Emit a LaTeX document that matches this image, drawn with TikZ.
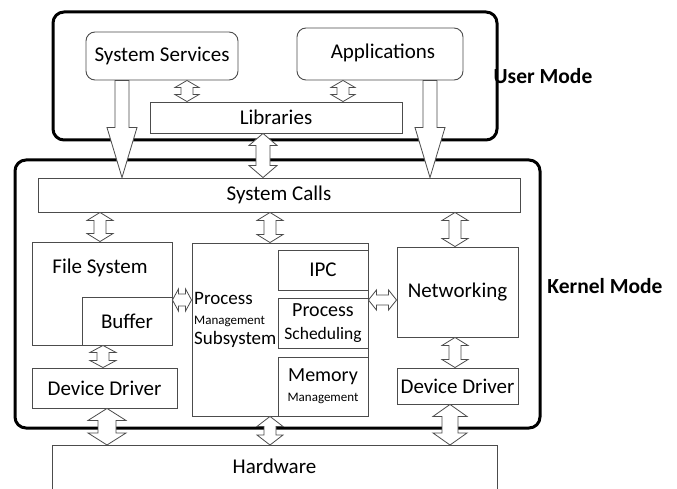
\documentclass[tikz,border=0pt]{standalone}
\usepackage{fontspec}
\setmainfont{Carlito}
\usetikzlibrary{calc}
\tikzset{
  box/.style={draw=black!70, line width=0.9pt, fill=white, inner sep=0pt},
  modebox/.style={draw=black, line width=3pt, rounded corners=11pt, inner sep=0pt},
  appbox/.style={draw=black!70, line width=0.9pt, fill=white, rounded corners=9pt, inner sep=0pt},
  txt/.style={font=\fontsize{21}{23}\selectfont, inner sep=0pt},
  lbl/.style={font=\fontsize{21.5}{23}\selectfont\bfseries, inner sep=0pt},
  arr/.style={draw=black!70, line width=0.8pt, fill=white, line join=miter},
  vdarrow/.style n args={3}{arr, to path={(\tikztostart) -- ++(#2,#3) -- ++(-#2+#1,0)
    -- ($(\tikztotarget)+(#1,-#3)$) -- ++(#2-#1,0) -- (\tikztotarget) -- ++(-#2,-#3)
    -- ++(#2-#1,0) -- ($(\tikztostart)+(-#1,#3)$) -- ++(-#2+#1,0) -- cycle}},
  hdarrow/.style n args={3}{arr, to path={(\tikztostart) -- ++(#3,-#2) -- ++(0,#2-#1)
    -- ($(\tikztotarget)+(-#3,-#1)$) -- ++(0,-#2+#1) -- (\tikztotarget) -- ++(-#3,#2)
    -- ++(0,-#2+#1) -- ($(\tikztostart)+(#3,#1)$) -- ++(0,#2-#1) -- cycle}},
  vsarrow/.style n args={3}{arr, to path={(\tikztostart) -- ++(#1,0)
    -- ($(\tikztotarget)+(#1,-#3)$) -- ++(#2-#1,0) -- (\tikztotarget) -- ++(-#2,-#3)
    -- ++(#2-#1,0) -- ($(\tikztostart)+(-#1,0)$) -- cycle}},
}
\begin{document}
\begin{tikzpicture}[x=1pt,y=-1pt]
\useasboundingbox (0,0) rectangle (677,489);
% mode boxes
\node[modebox, minimum width=444pt, minimum height=128pt] (user) at (275,76) {};
\node[modebox, minimum width=525pt, minimum height=268pt] (kernel) at (277.5,294) {};
\node[lbl] (userlbl) at (543,76) {User Mode};
\node[lbl] (kernlbl) at (605,286) {Kernel Mode};
% user level
\node[appbox, minimum width=152pt, minimum height=48pt, txt] (sysserv) at (162,56) {System Services};
\node[appbox, minimum width=166pt, minimum height=52pt, txt] (apps) at (380,54) {};
\node[txt] at (383,53) {Applications};
\node[box, minimum width=252pt, minimum height=31pt, txt] (libs) at (276,117.5) {Libraries};
% kernel level
\node[box, minimum width=482pt, minimum height=34pt, txt] (syscalls) at (279,195) {System Calls};
\node[box, minimum width=140pt, minimum height=103pt] (filesys) at (102,293.5) {};
\node[txt] at (100,268) {File System};
\node[box, minimum width=90pt, minimum height=48pt, txt] (buffer) at (127,321) {Buffer};
\node[box, minimum width=145pt, minimum height=40pt, txt] (dd1) at (104.5,388) {Device Driver};
\node[box, minimum width=176pt, minimum height=173pt] (proc) at (280,329.5) {};
\node[anchor=west, inner sep=0pt, align=left, font=\fontsize{19}{20}\selectfont] at (194,320)
  {Process\\{\fontsize{13}{20}\selectfont Management}\\Subsystem};
\node[box, minimum width=90pt, minimum height=40pt, txt] (ipc) at (323,270) {IPC};
\node[box, minimum width=90pt, minimum height=50pt, align=center, font=\fontsize{20}{23}\selectfont] (sched) at (323,323)
  {Process\\{\fontsize{17.5}{23}\selectfont Scheduling}};
\node[box, minimum width=90pt, minimum height=59pt, align=center, font=\fontsize{20}{20}\selectfont] (mem) at (323,386.5)
  {Memory\\{\fontsize{13}{20}\selectfont Management}};
\node[box, minimum width=121pt, minimum height=90pt, txt] (net) at (457.5,292) {Networking};
\node[box, minimum width=121pt, minimum height=36pt, txt] (dd2) at (457.5,386) {Device Driver};
% hardware
\node[box, anchor=north, minimum width=445pt, minimum height=70pt] (hw) at (274.5,445) {};
\node[txt] at (274.5,466) {Hardware};
% arrows
\draw[vsarrow={7}{15}{50}] (sysserv.south -| 122,0) to (syscalls.north -| 122,0);
\draw[vsarrow={7}{15}{50}] (apps.south -| 430,0) to (syscalls.north -| 430,0);
\draw[vdarrow={6}{12}{7}] (sysserv.south -| 187,0) to (libs.north -| 187,0);
\draw[vdarrow={6}{12}{7}] (apps.south -| 343,0) to (libs.north -| 343,0);
\draw[vdarrow={7}{14}{12}] (libs.south -| 263,0) to (syscalls.north -| 263,0);
\draw[vdarrow={6}{13}{8}] (syscalls.south -| 100,0) to (filesys.north -| 100,0);
\draw[vdarrow={6}{13}{8}] (syscalls.south -| 270,0) to (proc.north -| 270,0);
\draw[vdarrow={6}{13}{8}] (syscalls.south -| 455,0) to (net.north -| 455,0);
\draw[vdarrow={6}{13}{7}] (buffer.south -| 103,0) to (dd1.north -| 103,0);
\draw[vdarrow={6}{13}{8}] (net.south -| 455,0) to (dd2.north -| 455,0);
\draw[vdarrow={9}{19}{12}] (dd1.south -| 107,0) to (hw.north -| 107,0);
\draw[vdarrow={6}{13}{10}] (proc.south -| 270,0) to (hw.north -| 270,0);
\draw[vdarrow={8}{17}{12}] (dd2.south -| 450,0) to (hw.north -| 450,0);
\draw[hdarrow={6}{11}{6}] (buffer.east |- 0,300) to (proc.west |- 0,300);
\draw[hdarrow={5}{10}{8}] (sched.east |- 0,300) to (net.west |- 0,300);
\end{tikzpicture}
\end{document}
